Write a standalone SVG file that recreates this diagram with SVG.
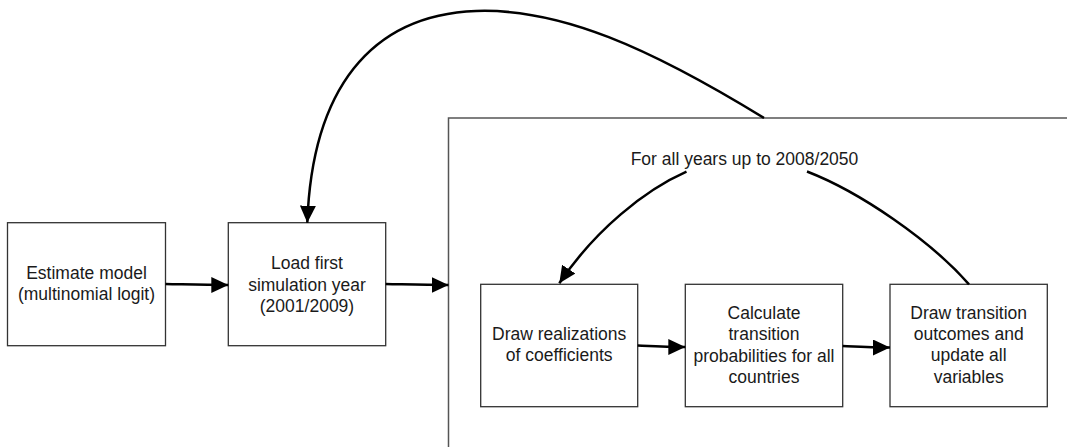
<svg xmlns="http://www.w3.org/2000/svg" width="1067" height="447" viewBox="0 0 1067 447">
<style>
.box{fill:#fff;stroke:#333;stroke-width:1.3}
.frame{fill:none;stroke:#555;stroke-width:1.5}
.t{font-family:"Liberation Sans",Arial,sans-serif;font-size:17.5px;fill:#1a1a1a;text-anchor:middle}
.c{fill:none;stroke:#000;stroke-width:2.5;marker-end:url(#ah)}
.cn{fill:none;stroke:#000;stroke-width:2.5}
</style>
<defs>
<marker id="ah" markerUnits="userSpaceOnUse" markerWidth="18" markerHeight="17" refX="17" refY="8" orient="auto" viewBox="0 0 18 17">
<path d="M0,0 L17,8 L0,16 z" fill="#000"/>
</marker>
</defs>
<rect width="1067" height="447" fill="#fff"/>
<g id="loop-frame">
<rect class="frame" x="448.5" y="118" width="700" height="400"/>
<text class="t" x="744.5" y="165">For all years up to 2008/2050</text>
</g>
<g id="estimate">
<rect class="box" x="7.5" y="222.7" width="158" height="123"/>
<text class="t" x="86.5" y="279">Estimate model</text>
<text class="t" x="86.5" y="300">(multinomial logit)</text>
</g>
<g id="load">
<rect class="box" x="228.3" y="222.7" width="157.4" height="123"/>
<text class="t" x="307" y="269">Load first</text>
<text class="t" x="307" y="290.5">simulation year</text>
<text class="t" x="307" y="311.5">(2001/2009)</text>
</g>
<g id="draw-coef">
<rect class="box" x="480.7" y="284.3" width="157" height="122.4"/>
<text class="t" x="559.2" y="340">Draw realizations</text>
<text class="t" x="559.2" y="361">of coefficients</text>
</g>
<g id="calc">
<rect class="box" x="685.3" y="284.3" width="157.4" height="122.4"/>
<text class="t" x="764" y="319">Calculate</text>
<text class="t" x="764" y="340">transition</text>
<text class="t" x="764" y="361.5">probabilities for all</text>
<text class="t" x="764" y="382.5">countries</text>
</g>
<g id="draw-outcomes">
<rect class="box" x="890" y="284.3" width="157.3" height="122.4"/>
<text class="t" x="968.7" y="318.5">Draw transition</text>
<text class="t" x="968.7" y="340">outcomes and</text>
<text class="t" x="968.7" y="361">update all</text>
<text class="t" x="968.7" y="382.5">variables</text>
</g>
<g id="connectors">
<path class="c" d="M165.5,284 C190,284.5 205,285 228.3,285"/>
<path class="c" d="M385.7,284 C410,284.5 425,285 448.5,285"/>
<path class="c" d="M637.7,345.5 C660,346.5 670,347 685.3,347"/>
<path class="c" d="M842.7,346 C865,347 875,347.5 890,347.5"/>
<path class="c" d="M764,118 C650,48 560,8 476,11 C370,15 312,90 307.3,222.7"/>
<path class="c" d="M686.5,171.7 C645,190 595,230 559.3,283.3"/>
<path class="cn" d="M807,171.5 C860,192 930,240 969,284.3"/>
</g>
</svg>
